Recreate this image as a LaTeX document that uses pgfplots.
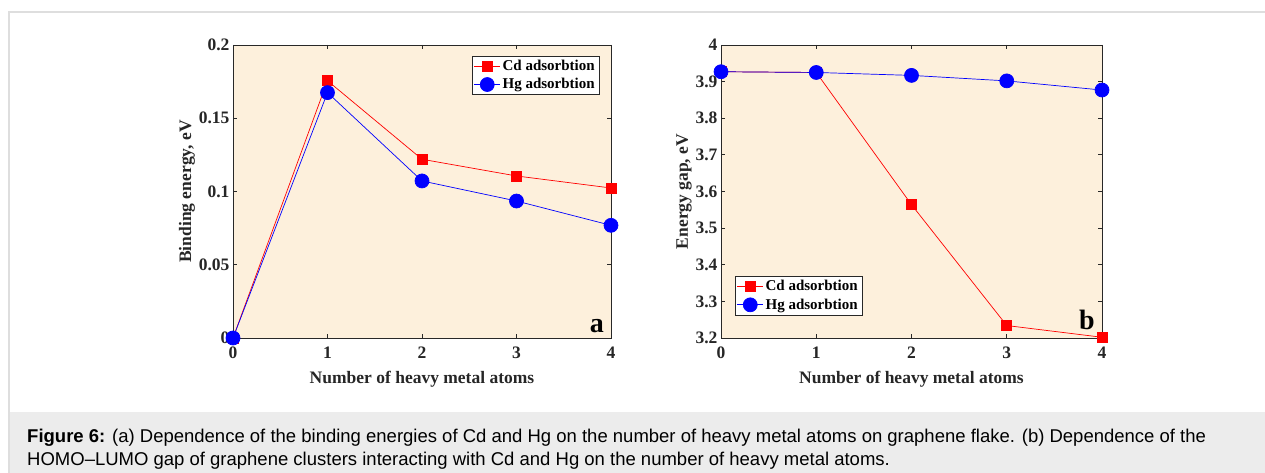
\documentclass[border=0pt]{standalone}
\usepackage{pgfplots}
\pgfplotsset{compat=1.18}
\usepackage{fontspec}
\setmainfont{Liberation Serif}
\newfontfamily\capfont{Liberation Sans}
\definecolor{bgbeige}{RGB}{253,240,220}
\definecolor{framegray}{RGB}{222,222,222}
\definecolor{capgray}{RGB}{236,236,236}
\definecolor{axgray}{RGB}{40,40,40}
\pgfplotsset{
  myax/.style={
    scale only axis, anchor=south west,
    width=378pt, height=293pt,
    xmin=0, xmax=4, xtick={0,1,2,3,4}, xticklabels={0,1,2,3,4},
    axis background/.style={fill=bgbeige},
    axis line style={axgray, line width=0.8pt},
    tick style={axgray, line width=0.8pt},
    tick align=inside, major tick length=4pt,
    xtick pos=both, ytick pos=both,
    tick label style={font=\bfseries\fontsize{17.5}{17.5}\selectfont, text=black!85},
    xticklabel style={yshift=-5pt},
    label style={font=\bfseries\fontsize{17.5}{17.5}\selectfont, text=black!85},
    xlabel={Number of heavy metal atoms},
    xlabel style={yshift=-6pt},
    ylabel style={yshift=-3pt},
    legend style={font=\bfseries\fontsize{15}{15}\selectfont, draw=axgray, fill=white,
      inner xsep=2pt, inner ysep=2pt, row sep=2.5pt, cells={anchor=west}},
    legend image code/.code={\draw[mark repeat=2, mark phase=2] plot coordinates {(0pt,0pt) (13pt,0pt) (26pt,0pt)};},
    clip=false,
  },
  cdstyle/.style={red, line width=0.7pt, mark=square*, mark size=5pt, mark options={solid, fill=red, draw=red}},
  hgstyle/.style={blue, line width=0.7pt, mark=*, mark size=7pt, mark options={solid, fill=blue, draw=blue}},
}
\begin{document}
\begin{tikzpicture}[x=1pt,y=1pt]
\path[use as bounding box] (0,0) rectangle (1265,473);
\fill[white] (0,0) rectangle (1265,473);
\fill[capgray] (9,0) rectangle (1265,61);
\draw[framegray, line width=1.5pt] (9,0) -- (9,461) -- (1266,461);
\node[anchor=base west, inner sep=0pt, font=\capfont\fontsize{18.5}{20}\selectfont] at (27,30)
  {\textbf{Figure 6:} (a) Dependence of the binding energies of Cd and Hg on the number of heavy metal atoms on graphene flake. (b) Dependence of the};
\node[anchor=base west, inner sep=0pt, font=\capfont\fontsize{18.5}{20}\selectfont] at (27,7.5)
  {HOMO–LUMO gap of graphene clusters interacting with Cd and Hg on the number of heavy metal atoms.};

\begin{axis}[myax, at={(233pt,135pt)},
  ymin=0, ymax=0.2, ytick={0,0.05,0.1,0.15,0.2}, yticklabels={0,0.05,0.1,0.15,0.2},
  ylabel={Binding energy, eV},
  legend style={at={(rel axis cs:0.968,0.9625)}, anchor=north east}]
\addplot[cdstyle] coordinates {(0,0) (1,0.1756) (2,0.1220) (3,0.1106) (4,0.1024)};
\addplot[hgstyle] coordinates {(0,0) (1,0.1675) (2,0.1072) (3,0.0935) (4,0.0769)};
\legend{Cd adsorbtion, Hg adsorbtion}
\node[anchor=base east, font=\bfseries\fontsize{28}{28}\selectfont, inner sep=0pt] at (rel axis cs:1,0) [xshift=-7pt, yshift=5pt] {a};
\end{axis}

\begin{axis}[myax, at={(721pt,135pt)}, width=381pt,
  ymin=3.2, ymax=4, ytick={3.2,3.3,...,4.0}, yticklabels={3.2,3.3,3.4,3.5,3.6,3.7,3.8,3.9,4},
  ylabel={Energy gap, eV},
  legend style={at={(rel axis cs:0.036,0.0785)}, anchor=south west}]
\addplot[cdstyle] coordinates {(0,3.927) (1,3.925) (2,3.564) (3,3.234) (4,3.202)};
\addplot[hgstyle] coordinates {(0,3.927) (1,3.925) (2,3.917) (3,3.902) (4,3.877)};
\legend{Cd adsorbtion, Hg adsorbtion}
\node[anchor=base east, font=\bfseries\fontsize{28}{28}\selectfont, inner sep=0pt] at (rel axis cs:1,0) [xshift=-7pt, yshift=8pt] {b};
\end{axis}
\end{tikzpicture}
\end{document}
